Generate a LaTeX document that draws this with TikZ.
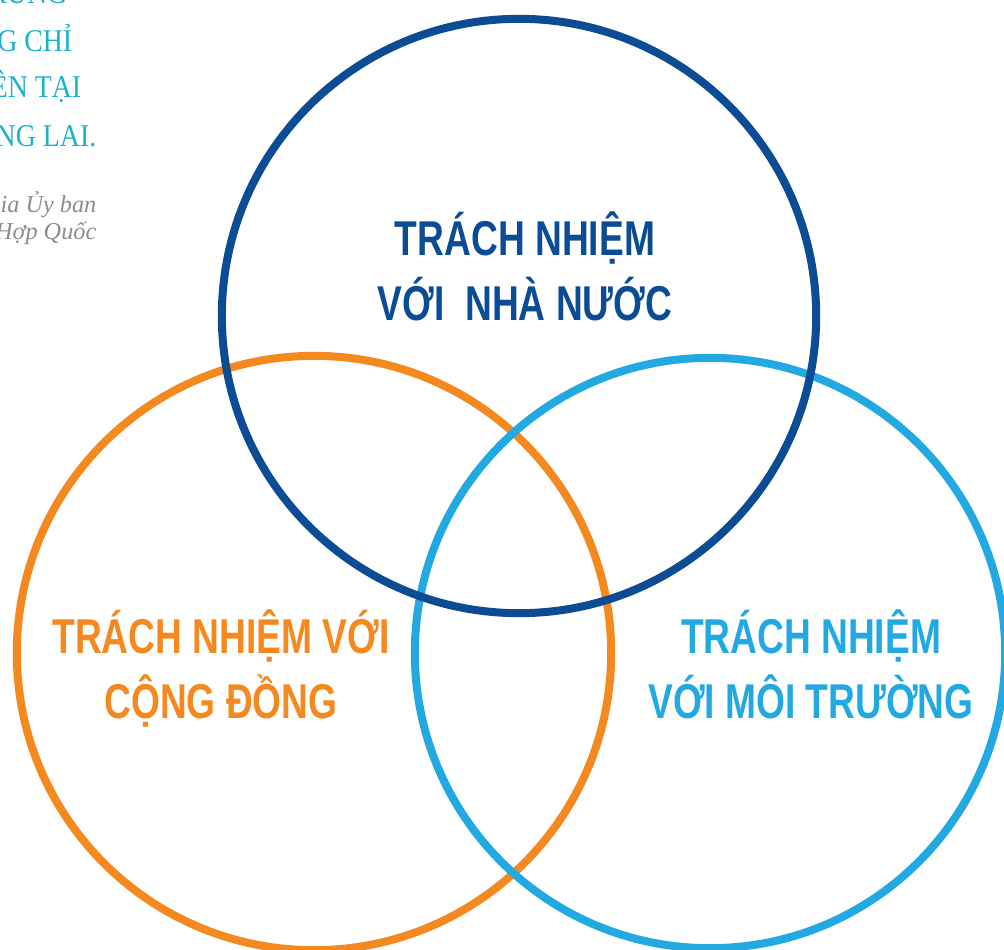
\documentclass[tikz,border=0pt]{standalone}
\usepackage{fontspec}
\setmainfont{Liberation Serif}
\newfontfamily\headfont[FakeStretch=0.76]{Liberation Sans}
\newfontfamily\quotefont[FakeStretch=0.88]{Liberation Serif}
\definecolor{navyring}{RGB}{12,76,149}
\definecolor{orangering}{RGB}{243,137,31}
\definecolor{skyring}{RGB}{34,169,225}
\definecolor{quotecyan}{RGB}{28,178,204}
\definecolor{quotegray}{RGB}{140,140,140}

\begin{document}
\begin{tikzpicture}[x=0.01cm, y=-0.01cm]

\tikzset{ ring/.style={line width=0.08cm},
  headline/.style={anchor=base, inner sep=0pt, font={\headfont\bfseries\fontsize{13.9}{16}\selectfont}},
  quoteline/.style={anchor=base east, inner sep=0pt, text=quotecyan, font={\quotefont\fontsize{9}{10}\selectfont}},
  sourceline/.style={anchor=base east, inner sep=0pt, text=quotegray, font={\itshape\fontsize{6.9}{8}\selectfont}}
}

\useasboundingbox (0,0) rectangle (1004,949);
\clip (0,0) rectangle (1004,949);

% Quote (cut at the left edge)
\node[quoteline] (q0) at (68, 4) {RUNG};
\node[quoteline] (q1) at (73, 52) {G CHỈ};
\node[quoteline] (q2) at (82, 98) {ÊN TẠI};
\node[quoteline] (q3) at (97, 147) {NG LAI.};
\node[sourceline] (s1) at (97, 213) {ia Ủy ban};
\node[sourceline] (s2) at (97, 239) {Hợp Quốc};

% Rings
\draw[ring, orangering] (314, 653) circle[radius=2.97cm];
\draw[ring, skyring] (710, 653) circle[radius=2.95cm];
\draw[ring, navyring] (519, 316) circle[radius=2.97cm];

% Labels
\node[headline, text=navyring] (nn1) at (525, 255) {TRÁCH NHIỆM};
\node[headline, text=navyring] (nn2) at (525, 320) {VỚI\ \ NHÀ NƯỚC};

\node[headline, text=orangering] (cd1) at (221, 653) {TRÁCH NHIỆM VỚI};
\node[headline, text=orangering] (cd2) at (221, 718) {CỘNG ĐỒNG};

\node[headline, text=skyring] (mt1) at (811, 653) {TRÁCH NHIỆM};
\node[headline, text=skyring] (mt2) at (811, 718) {VỚI MÔI TRƯỜNG};

\end{tikzpicture}
\end{document}
